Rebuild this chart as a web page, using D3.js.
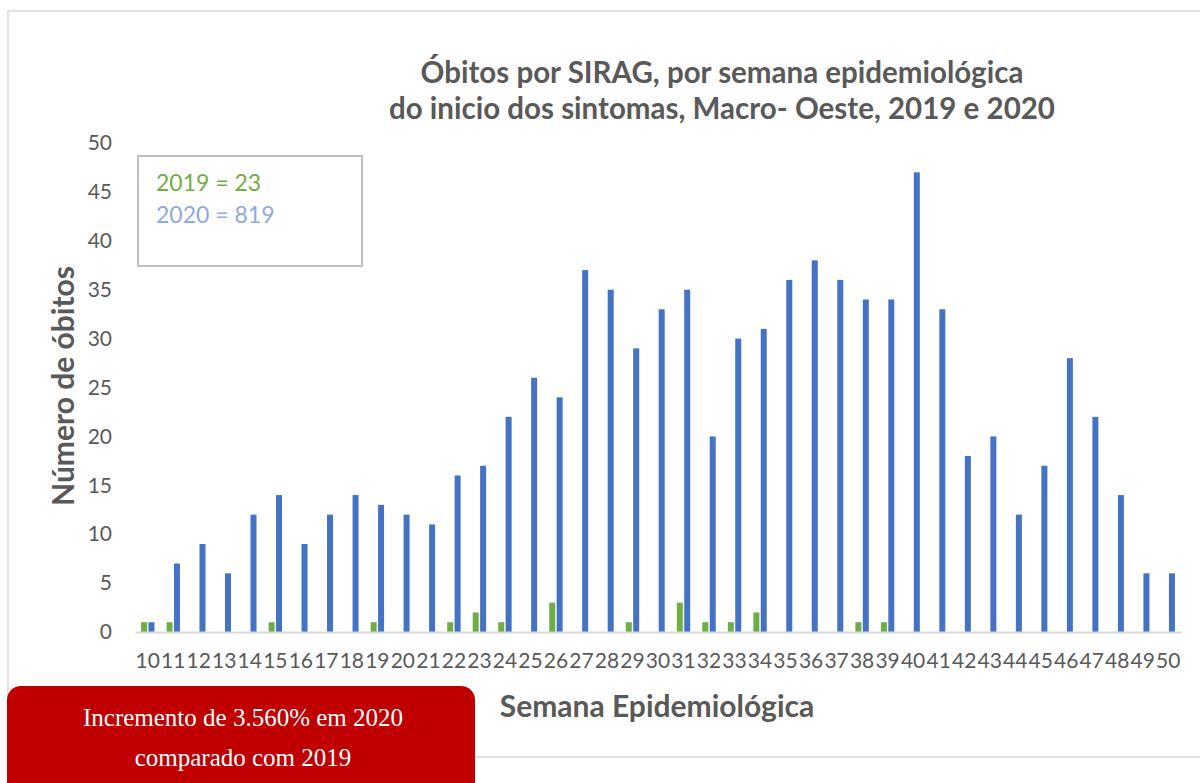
<!DOCTYPE html>
<html>
<head>
<meta charset="utf-8">
<script src="https://cdn.jsdelivr.net/npm/d3@7"></script>
<style>
  html, body { margin: 0; padding: 0; background: #fff; }
  svg { display: block; }
</style>
</head>
<body>
<svg id="chart" width="1200" height="783"></svg>
<script>
const weeks = [10,11,12,13,14,15,16,17,18,19,20,21,22,23,24,25,26,27,28,29,30,31,32,33,34,35,36,37,38,39,40,41,42,43,44,45,46,47,48,49,50];
const deaths2019 = [1,1,0,0,0,1,0,0,0,1,0,0,1,2,1,0,3,0,0,1,0,3,1,1,2,0,0,0,1,1,0,0,0,0,0,0,0,0,0,0,0];
const deaths2020 = [1,7,9,6,12,14,9,12,14,13,12,11,16,17,22,26,24,37,35,29,33,35,20,30,31,36,38,36,34,34,47,33,18,20,12,17,28,22,14,6,6];
const yTicks = [0,5,10,15,20,25,30,35,40,45,50];
const titleLines = ["Óbitos por SIRAG, por semana epidemiológica", "do inicio dos sintomas, Macro- Oeste, 2019 e 2020"];
const legendLines = [{text: "2019 = 23", color: "#70AD47"}, {text: "2020 = 819", color: "#8FAADC"}];
const noteLines = ["Incremento de 3.560% em 2020", "comparado com 2019"];

const svg = d3.select("#chart");
const font = "Lato, 'Open Sans', sans-serif";
const textColor = "#595959";

// outer chart border
svg.append("rect").attr("x", 8).attr("y", 11).attr("width", 1200).attr("height", 746)
  .attr("fill", "#fff").attr("stroke", "#D9D9D9").attr("stroke-width", 1.5);

const plot = {left: 135, right: 1181, top: 143, bottom: 632};
const x = d3.scaleBand().domain(weeks).range([plot.left, plot.right]).padding(0);
const y = d3.scaleLinear().domain([0, 50]).range([plot.bottom, plot.top]);

// title
svg.append("text").attr("x", 722).attr("y", 83).attr("text-anchor", "middle")
  .attr("font-family", font).attr("font-weight", "bold").attr("font-size", 29.5).attr("fill", textColor)
  .selectAll("tspan").data(titleLines).join("tspan")
  .attr("x", 722).attr("dy", (d, i) => i === 0 ? 0 : 36).text(d => d);

// y axis
const yAxis = d3.axisLeft(y).tickValues(yTicks).tickSize(0).tickPadding(23);
const gy = svg.append("g").attr("transform", `translate(${plot.left},0)`).call(yAxis);
gy.select(".domain").remove();
gy.selectAll("text").attr("font-family", font).attr("font-size", 21).attr("fill", textColor);

// bars
const bw = 6;
svg.append("g").selectAll("rect").data(weeks).join("rect")
  .attr("x", d => x(d) + x.bandwidth() / 2 - bw - 0.7)
  .attr("y", (d, i) => y(deaths2019[i]))
  .attr("width", bw)
  .attr("height", (d, i) => y(0) - y(deaths2019[i]))
  .attr("fill", "#70AD47");
svg.append("g").selectAll("rect").data(weeks).join("rect")
  .attr("x", d => x(d) + x.bandwidth() / 2 + 0.7)
  .attr("y", (d, i) => y(deaths2020[i]))
  .attr("width", bw)
  .attr("height", (d, i) => y(0) - y(deaths2020[i]))
  .attr("fill", "#4472C4");

// x axis
const xAxis = d3.axisBottom(x).tickSize(0).tickPadding(21);
const gx = svg.append("g").attr("transform", `translate(0,${plot.bottom})`).call(xAxis);
gx.select(".domain").attr("stroke", "#D9D9D9").attr("stroke-width", 2);
gx.selectAll("text").attr("font-family", font).attr("font-size", 21).attr("fill", textColor);

// axis titles
svg.append("text").attr("transform", "translate(74,386) rotate(-90)").attr("text-anchor", "middle")
  .attr("font-family", font).attr("font-weight", "bold").attr("font-size", 30).attr("fill", textColor)
  .text("Número de óbitos");
svg.append("text").attr("x", 657).attr("y", 717).attr("text-anchor", "middle")
  .attr("font-family", font).attr("font-weight", "bold").attr("font-size", 30).attr("fill", textColor)
  .text("Semana Epidemiológica");

// legend box
svg.append("rect").attr("x", 138).attr("y", 156).attr("width", 224).attr("height", 110)
  .attr("fill", "#fff").attr("stroke", "#BFBFBF").attr("stroke-width", 2);
svg.append("g").selectAll("text").data(legendLines).join("text")
  .attr("x", 156).attr("y", (d, i) => 191 + i * 32)
  .attr("font-family", font).attr("font-size", 23).attr("fill", d => d.color)
  .text(d => d.text);

// red note box
svg.append("rect").attr("x", 7).attr("y", 686).attr("width", 468).attr("height", 120).attr("rx", 14)
  .attr("fill", "#C00000");
svg.append("g").selectAll("text").data(noteLines).join("text")
  .attr("x", 243).attr("y", (d, i) => 726 + i * 40).attr("text-anchor", "middle")
  .attr("font-family", "'Liberation Serif', 'DejaVu Serif', serif").attr("font-size", 25).attr("fill", "#fff")
  .text(d => d);
</script>
</body>
</html>
